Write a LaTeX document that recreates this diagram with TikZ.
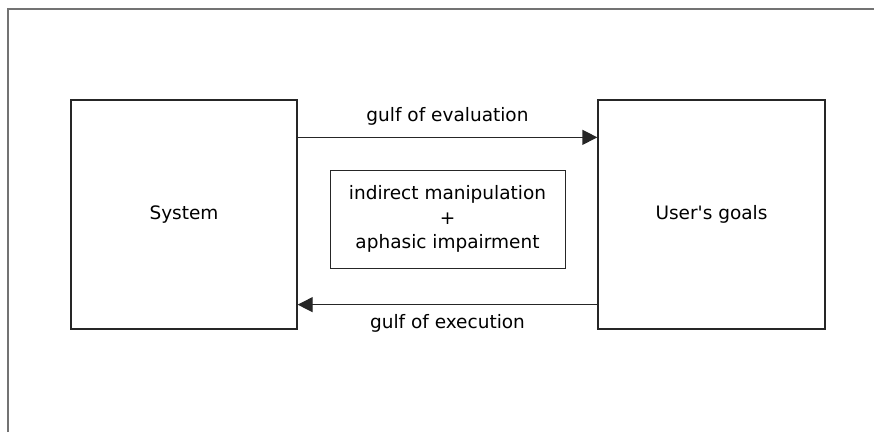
\documentclass[tikz,border=0pt]{standalone}
\usepackage{fontspec}
\setmainfont{DejaVu Sans}[Ligatures=TeXOff]
\usetikzlibrary{arrows.meta}
\tikzset{
  block/.style={draw=black!85, line width=1.3pt, align=center, inner sep=0pt},
  gulf/.style={draw=black!85, line width=1.3pt, -{Triangle[length=15pt,width=15pt]}},
  lbl/.style={inner sep=0pt}
}
\begin{document}
\begin{tikzpicture}[x=1pt, y=-1pt, font=\fontsize{18.5}{24.5}\selectfont]
    \useasboundingbox (0,0) rectangle (874,432);
    % Drawing the outer frame
    \draw [black!55, line width=1.5pt] (8,432) -- (8,9) -- (874,9);
    % Drawing the two boxes
    \node [block, minimum width=226pt, minimum height=229pt] (sys) at (184,214.5) {System};
    \node [block, minimum width=227pt, minimum height=229pt] (user) at (711.5,214.5) {User's goals};
    \node [block, line width=1pt, minimum width=235pt, minimum height=98pt] (mid) at (447.5,219)
      {indirect manipulation\\+\\aphasic impairment};
    % Drawing the gulfs
    \draw [gulf] ([yshift=-38pt]sys.north east) -- node [lbl, above=11pt] (eval) {gulf of evaluation} ([yshift=-38pt]user.north west);
    \draw [gulf] ([yshift=25pt]user.south west) -- node [lbl, below=9pt] (exec) {gulf of execution} ([yshift=25pt]sys.south east);
\end{tikzpicture}
\end{document}
